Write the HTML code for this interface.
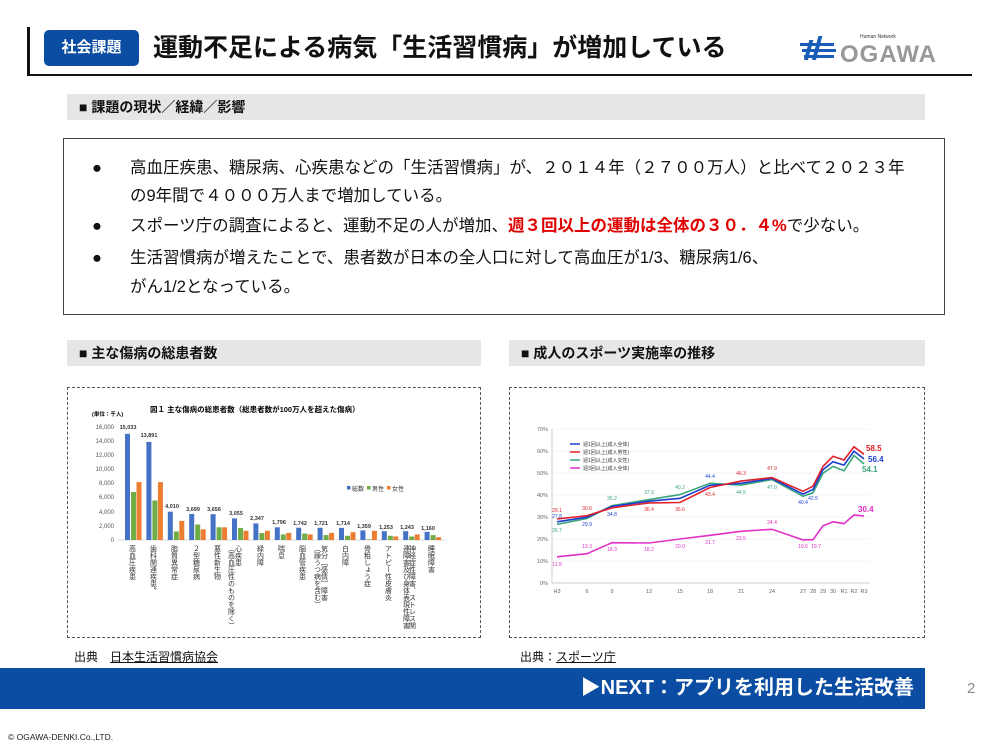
<!DOCTYPE html>
<html><head><meta charset="utf-8">
<style>
*{margin:0;padding:0;box-sizing:border-box}
body{width:1000px;height:750px;background:#fff;position:relative;overflow:hidden;font-family:"Liberation Sans","Noto Sans CJK JP",sans-serif;color:#111}
.a{position:absolute}
.gbar{background:#e6e6e6;font-weight:bold;font-size:14px;line-height:26px;padding-left:12px;height:26px}
.b{font-size:16.5px;line-height:20px;white-space:nowrap}
</style></head><body>
<div class="a" style="left:27px;top:27px;width:3px;height:48px;background:#111"></div>
<div class="a" style="left:27px;top:74px;width:945px;height:1.5px;background:#111"></div>
<div class="a" style="left:44px;top:30px;width:95px;height:36px;background:#0a4da2;border-radius:5px;color:#fff;font-weight:bold;font-size:15px;line-height:36px;text-align:center">社会課題</div>
<div class="a" style="left:153px;top:31px;font-size:25px;font-weight:bold;line-height:34px;white-space:nowrap">運動不足による病気「生活習慣病」が増加している</div>
<div class="a" style="left:800px;top:30px;width:170px;height:36px">
<svg width="170" height="36"><g fill="#1a5db8"><rect x="12" y="10" width="4" height="20" transform="skewX(-15)"/><rect x="20" y="6" width="4" height="24" transform="skewX(-15)"/><rect x="0" y="13" width="34" height="3"/><rect x="2" y="19" width="34" height="3"/><rect x="4" y="25" width="30" height="3"/></g>
<text x="60" y="8" font-size="5" fill="#333" font-family="Liberation Sans">Human Network</text>
<text x="40" y="32" font-size="24" font-weight="bold" fill="#999" font-family="Liberation Sans" letter-spacing="1">OGAWA</text></svg></div>

<div class="a gbar" style="left:67px;top:94px;width:858px">■ 課題の現状／経緯／影響</div>
<div class="a" style="left:63px;top:138px;width:882px;height:177px;border:1px solid #444"></div>
<div class="a b" style="left:92px;top:158px">●</div>
<div class="a b" style="left:130px;top:158px">高血圧疾患、糖尿病、心疾患などの「生活習慣病」が、２０１４年（２７００万人）と比べて２０２３年</div>
<div class="a b" style="left:130px;top:186px">の9年間で４０００万人まで増加している。</div>
<div class="a b" style="left:92px;top:216px">●</div>
<div class="a b" style="left:130px;top:216px">スポーツ庁の調査によると、運動不足の人が増加、<span style="color:#e00000;font-weight:bold">週３回以上の運動は全体の３０．４%</span>で少ない。</div>
<div class="a b" style="left:92px;top:248px">●</div>
<div class="a b" style="left:130px;top:248px">生活習慣病が増えたことで、患者数が日本の全人口に対して高血圧が1/3、糖尿病1/6、</div>
<div class="a b" style="left:130px;top:277px">がん1/2となっている。</div>

<div class="a gbar" style="left:67px;top:340px;width:414px">■ 主な傷病の総患者数</div>
<div class="a gbar" style="left:509px;top:340px;width:416px">■ 成人のスポーツ実施率の推移</div>
<div class="a" style="left:67px;top:387px;width:414px;height:251px;border:1px dashed #555"></div>
<div class="a" style="left:509px;top:387px;width:416px;height:251px;border:1px dashed #555"></div>

<svg class="a" style="left:0;top:0" width="1000" height="750" font-family="Liberation Sans,Noto Sans CJK JP,sans-serif">
<text x="150" y="412" font-size="7.5" font-weight="bold">図１ 主な傷病の総患者数（総患者数が100万人を超えた傷病）</text>
<text x="92" y="416" font-size="5.5" font-weight="bold">(単位：千人)</text>
<g font-size="6" fill="#555" text-anchor="end">
<text x="114" y="429">16,000</text><text x="114" y="443">14,000</text><text x="114" y="457">12,000</text><text x="114" y="471">10,000</text><text x="114" y="485">8,000</text><text x="114" y="499">6,000</text><text x="114" y="514">4,000</text><text x="114" y="528">2,000</text><text x="114" y="542">0</text></g>
<line x1="118" y1="540" x2="445" y2="540" stroke="#ccc" stroke-width="0.7"/>
<g>
<g transform="translate(125,540)"><rect x="0" y="-106.2" width="5" height="106.2" fill="#4472c4"/><rect x="6" y="-48" width="5" height="48" fill="#70ad47"/><rect x="11.5" y="-57.9" width="5" height="57.9" fill="#ed7d31"/></g>
<g transform="translate(146.4,540)"><rect x="0" y="-98.1" width="5" height="98.1" fill="#4472c4"/><rect x="6" y="-39.5" width="5" height="39.5" fill="#70ad47"/><rect x="11.5" y="-57.9" width="5" height="57.9" fill="#ed7d31"/></g>
<g transform="translate(167.8,540)"><rect x="0" y="-28.3" width="5" height="28.3" fill="#4472c4"/><rect x="6" y="-8.5" width="5" height="8.5" fill="#70ad47"/><rect x="11.5" y="-19.1" width="5" height="19.1" fill="#ed7d31"/></g>
<g transform="translate(189.2,540)"><rect x="0" y="-26.1" width="5" height="26.1" fill="#4472c4"/><rect x="6" y="-15.5" width="5" height="15.5" fill="#70ad47"/><rect x="11.5" y="-10.6" width="5" height="10.6" fill="#ed7d31"/></g>
<g transform="translate(210.6,540)"><rect x="0" y="-25.8" width="5" height="25.8" fill="#4472c4"/><rect x="6" y="-12.7" width="5" height="12.7" fill="#70ad47"/><rect x="11.5" y="-12.7" width="5" height="12.7" fill="#ed7d31"/></g>
<g transform="translate(232,540)"><rect x="0" y="-21.6" width="5" height="21.6" fill="#4472c4"/><rect x="6" y="-12" width="5" height="12" fill="#70ad47"/><rect x="11.5" y="-9.2" width="5" height="9.2" fill="#ed7d31"/></g>
<g transform="translate(253.4,540)"><rect x="0" y="-16.6" width="5" height="16.6" fill="#4472c4"/><rect x="6" y="-7" width="5" height="7" fill="#70ad47"/><rect x="11.5" y="-9.2" width="5" height="9.2" fill="#ed7d31"/></g>
<g transform="translate(274.8,540)"><rect x="0" y="-12.7" width="5" height="12.7" fill="#4472c4"/><rect x="6" y="-5.6" width="5" height="5.6" fill="#70ad47"/><rect x="11.5" y="-7.1" width="5" height="7.1" fill="#ed7d31"/></g>
<g transform="translate(296.2,540)"><rect x="0" y="-12.3" width="5" height="12.3" fill="#4472c4"/><rect x="6" y="-6.4" width="5" height="6.4" fill="#70ad47"/><rect x="11.5" y="-5.6" width="5" height="5.6" fill="#ed7d31"/></g>
<g transform="translate(317.6,540)"><rect x="0" y="-12.2" width="5" height="12.2" fill="#4472c4"/><rect x="6" y="-4.9" width="5" height="4.9" fill="#70ad47"/><rect x="11.5" y="-7.1" width="5" height="7.1" fill="#ed7d31"/></g>
<g transform="translate(339,540)"><rect x="0" y="-12.1" width="5" height="12.1" fill="#4472c4"/><rect x="6" y="-4.2" width="5" height="4.2" fill="#70ad47"/><rect x="11.5" y="-7.8" width="5" height="7.8" fill="#ed7d31"/></g>
<g transform="translate(360.4,540)"><rect x="0" y="-9.6" width="5" height="9.6" fill="#4472c4"/><rect x="6" y="-0.7" width="5" height="0.7" fill="#70ad47"/><rect x="11.5" y="-9.2" width="5" height="9.2" fill="#ed7d31"/></g>
<g transform="translate(381.8,540)"><rect x="0" y="-8.8" width="5" height="8.8" fill="#4472c4"/><rect x="6" y="-4.2" width="5" height="4.2" fill="#70ad47"/><rect x="11.5" y="-3.5" width="5" height="3.5" fill="#ed7d31"/></g>
<g transform="translate(403.2,540)"><rect x="0" y="-8.8" width="5" height="8.8" fill="#4472c4"/><rect x="6" y="-3.5" width="5" height="3.5" fill="#70ad47"/><rect x="11.5" y="-5.6" width="5" height="5.6" fill="#ed7d31"/></g>
<g transform="translate(424.6,540)"><rect x="0" y="-8.2" width="5" height="8.2" fill="#4472c4"/><rect x="6" y="-4.9" width="5" height="4.9" fill="#70ad47"/><rect x="11.5" y="-2.8" width="5" height="2.8" fill="#ed7d31"/></g>
</g>
<g font-size="5.5" font-weight="bold" fill="#333" text-anchor="middle">
<text x="128" y="429">15,033</text><text x="149" y="437">13,891</text><text x="172" y="508">4,010</text><text x="193" y="511">3,699</text><text x="214" y="511">3,656</text><text x="236" y="515">3,055</text><text x="257" y="520">2,347</text><text x="279" y="524">1,796</text><text x="300" y="525">1,742</text><text x="321" y="525">1,721</text><text x="343" y="525">1,714</text><text x="364" y="528">1,359</text><text x="386" y="529">1,253</text><text x="407" y="529">1,243</text><text x="428" y="530">1,160</text></g>
<g font-size="6" fill="#333">
<rect x="347" y="486" width="3.5" height="3.5" fill="#4472c4"/><text x="352" y="491">総数</text>
<rect x="367" y="486" width="3.5" height="3.5" fill="#70ad47"/><text x="372" y="491">男性</text>
<rect x="387" y="486" width="3.5" height="3.5" fill="#ed7d31"/><text x="392" y="491">女性</text></g>
<g font-size="7" fill="#333" writing-mode="tb">
<text x="132" y="545">高血圧疾患</text><text x="153" y="545">歯科関連疾患*</text><text x="174" y="545">脂質異常症</text><text x="196" y="545">２型糖尿病</text><text x="217" y="545">悪性新生物</text><text x="238" y="545">心疾患</text><text x="231" y="545">（高血圧性のものを除く）</text><text x="260" y="545">緑内障</text><text x="281" y="545">喘息</text><text x="302" y="545">脳血管疾患</text><text x="324" y="545">気分［感情］障害</text><text x="317" y="545">（躁うつ病を含む）</text><text x="345" y="545">白内障</text><text x="367" y="545">骨粗しょう症</text><text x="388" y="545">アトピー性皮膚炎</text><text x="412" y="545">神経症性障害、ストレス関</text><text x="406" y="545">連障害及び身体表現性障害</text><text x="431" y="545">睡眠障害</text></g>

<g stroke="#eee" stroke-width="0.6"><line x1="552" y1="429" x2="870" y2="429"/><line x1="552" y1="451" x2="870" y2="451"/><line x1="552" y1="473" x2="870" y2="473"/><line x1="552" y1="495" x2="870" y2="495"/><line x1="552" y1="517" x2="870" y2="517"/><line x1="552" y1="539" x2="870" y2="539"/><line x1="552" y1="561" x2="870" y2="561"/></g>
<line x1="552" y1="429" x2="552" y2="583" stroke="#bbb" stroke-width="0.7"/>
<line x1="552" y1="583" x2="870" y2="583" stroke="#bbb" stroke-width="0.7"/>
<g font-size="5.5" fill="#666" text-anchor="end"><text x="548" y="431">70%</text><text x="548" y="453">60%</text><text x="548" y="475">50%</text><text x="548" y="497">40%</text><text x="548" y="519">30%</text><text x="548" y="541">20%</text><text x="548" y="563">10%</text><text x="548" y="585">0%</text></g>
<g font-size="5.5" fill="#666" text-anchor="middle"><text x="557" y="593">H3</text><text x="587" y="593">6</text><text x="612" y="593">9</text><text x="649" y="593">12</text><text x="680" y="593">15</text><text x="710" y="593">18</text><text x="741" y="593">21</text><text x="772" y="593">24</text><text x="803" y="593">27</text><text x="813" y="593">28</text><text x="823" y="593">29</text><text x="833" y="593">30</text><text x="844" y="593">R1</text><text x="854" y="593">R2</text><text x="864" y="593">R3</text></g>
<g fill="none" stroke-width="1.6">
<polyline stroke="#3aa57a" points="557,524.3 587,518.5 612,505.6 649,499.6 680,494.6 710,483.3 741,485.1 772,479.6 803,496.3 813,492.8 823,473.2 833,466.4 844,470.8 854,455.4 864,464"/>
<polyline stroke="#1a3fd0" points="557,521.8 587,517.2 612,506.4 649,501.2 680,498.3 710,485.3 741,483.3 772,478.5 803,494.1 813,489.5 823,469.7 833,461.8 844,465.1 854,451.2 864,458.9"/>
<polyline stroke="#e0202a" points="557,519 587,515.7 612,507.8 649,502.9 680,502.5 710,487.5 741,481.1 772,477.6 803,491.3 813,486.2 823,466.4 833,456.3 844,460 854,446.8 864,454.3"/>
<polyline stroke="#e030c8" points="557,556.8 587,553.7 612,542.7 649,543 680,539 710,535.3 741,531.3 772,529.3 803,539.9 813,539.7 823,525.8 833,521.8 844,523.6 854,515 864,516.1"/>
</g>
<g font-size="5" fill="#333">
<line x1="570" y1="444" x2="580" y2="444" stroke="#1a3fd0" stroke-width="1.5"/><text x="583" y="446">週1回以上(成人全体)</text>
<line x1="570" y1="452" x2="580" y2="452" stroke="#e0202a" stroke-width="1.5"/><text x="583" y="454">週1回以上(成人男性)</text>
<line x1="570" y1="460" x2="580" y2="460" stroke="#3aa57a" stroke-width="1.5"/><text x="583" y="462">週1回以上(成人女性)</text>
<line x1="570" y1="468" x2="580" y2="468" stroke="#e030c8" stroke-width="1.5"/><text x="583" y="470">週3回以上(成人全体)</text></g>
<g font-size="5" text-anchor="middle">
<text x="557" y="512" fill="#e0202a">29.1</text><text x="557" y="518" fill="#1a3fd0">27.8</text><text x="557" y="532" fill="#3aa57a">26.7</text>
<text x="587" y="510" fill="#e0202a">30.6</text><text x="587" y="526" fill="#1a3fd0">29.9</text><text x="612" y="500" fill="#3aa57a">35.2</text><text x="612" y="516" fill="#1a3fd0">34.8</text>
<text x="649" y="494" fill="#3aa57a">37.9</text><text x="649" y="511" fill="#e0202a">36.4</text><text x="680" y="489" fill="#3aa57a">40.2</text><text x="680" y="511" fill="#e0202a">36.6</text>
<text x="710" y="478" fill="#1a3fd0">44.4</text><text x="710" y="496" fill="#e0202a">43.4</text><text x="741" y="475" fill="#e0202a">46.3</text><text x="741" y="494" fill="#3aa57a">44.5</text>
<text x="772" y="470" fill="#e0202a">47.9</text><text x="772" y="489" fill="#3aa57a">47.0</text><text x="803" y="504" fill="#1a3fd0">40.4</text><text x="813" y="500" fill="#1a3fd0">42.5</text>
<text x="557" y="566" fill="#e030c8">11.9</text><text x="587" y="548" fill="#e030c8">13.3</text><text x="612" y="551" fill="#e030c8">18.3</text><text x="649" y="551" fill="#e030c8">18.2</text><text x="680" y="548" fill="#e030c8">20.0</text><text x="710" y="544" fill="#e030c8">21.7</text><text x="741" y="540" fill="#e030c8">23.5</text><text x="772" y="524" fill="#e030c8">24.4</text><text x="803" y="548" fill="#e030c8">19.6</text><text x="816" y="548" fill="#e030c8">19.7</text>
</g>
<g font-size="8" font-weight="bold"><text x="866" y="451" fill="#e0202a">58.5</text><text x="868" y="462" fill="#1a3fd0">56.4</text><text x="862" y="472" fill="#3aa57a">54.1</text><text x="858" y="512" fill="#e030c8">30.4</text></g>
</svg>

<div class="a" style="left:74px;top:648px;font-size:12px">出典　<u>日本生活習慣病協会</u></div>
<div class="a" style="left:520px;top:648px;font-size:12px">出典：<u>スポーツ庁</u></div>
<div class="a" style="left:0;top:668px;width:925px;height:41px;background:#0a4da2"></div>
<div class="a" style="left:490px;top:672px;width:424px;text-align:right;color:#fff;font-weight:bold;font-size:20px;line-height:32px">▶NEXT：アプリを利用した生活改善</div>
<div class="a" style="left:967px;top:680px;font-size:15px;color:#888">2</div>
<div class="a" style="left:8px;top:732px;font-size:8.5px;color:#222">© OGAWA-DENKI.Co.,LTD.</div>
</body></html>
